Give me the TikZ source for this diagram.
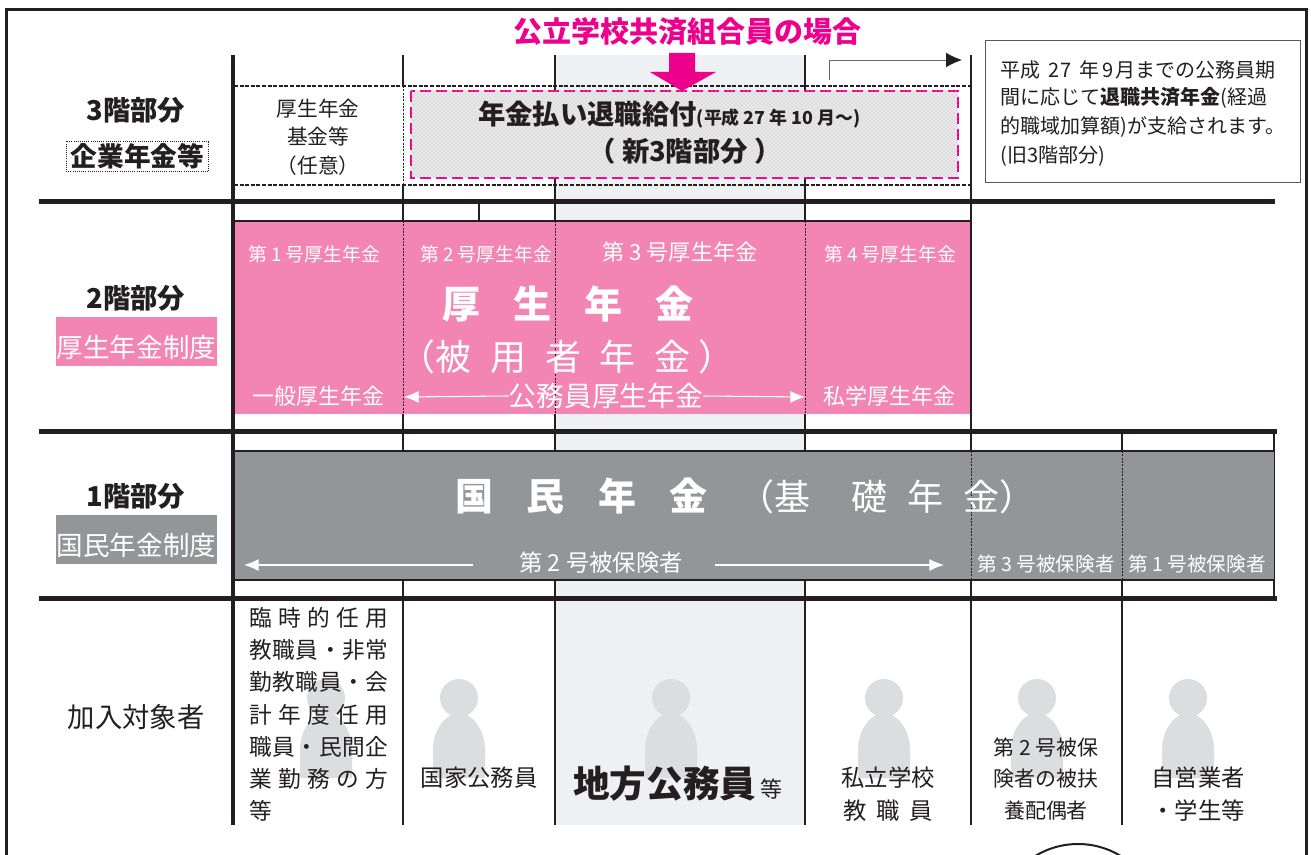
\documentclass[tikz,border=0pt]{standalone}
\usepackage{fontspec}
\setmainfont{Noto Sans CJK JP}
\usetikzlibrary{arrows.meta,patterns}

\definecolor{inkblack}{HTML}{231F20}
\definecolor{kouseipink}{HTML}{F285B3}
\definecolor{kisogray}{HTML}{939598}
\definecolor{colgray}{HTML}{EFF0F2}
\definecolor{persongray}{HTML}{DCDDDE}
\definecolor{magentapink}{HTML}{EC008C}

\newcommand{\fs}[1]{\fontsize{#1}{#1}\selectfont}
\newcommand{\spread}[1]{\makebox[104.25pt][s]{#1}}

\tikzset{
	lab/.style={text=inkblack,inner sep=0pt},
	wlab/.style={text=white,inner sep=0pt},
	gridline/.style={draw=inkblack,line width=1.5pt},
	floorline/.style={draw=inkblack,line width=3.75pt},
	dashline/.style={draw=inkblack,line width=1pt,dash pattern=on 3pt off 1.2pt},
	thindash/.style={draw=inkblack,line width=0.6pt,dash pattern=on 1.5pt off 1pt},
	wharrow/.style={draw=white,line width=0.8pt,-{Latex[length=11pt,width=9pt]}},
	person/.style={fill=persongray,draw=none},
}

\begin{document}
\begin{tikzpicture}[x=0.75pt,y=-0.75pt]

\useasboundingbox (0,0) rectangle (1311,855);
\fill[white] (0,0) rectangle (1311,855);

\begin{scope}
	\clip (0,0) rectangle (1311,855);
	\draw[draw=inkblack,line width=1.5pt,fill=white] (1078,926) circle [radius=82];
\end{scope}
\draw[draw=inkblack,line width=2.2pt] (6.5,855) -- (6.5,9.5) -- (1306.5,9.5) -- (1306.5,855);

\fill[colgray] (556,55) rectangle (804,825);

\foreach \x in {326,459,671,884,1037,1188} {
	\fill[person] (\x,698) ellipse [x radius=19,y radius=19];
	\fill[person] (\x-26,778) -- (\x-26,750) .. controls (\x-26,728) and (\x-12,713) .. (\x,713)
		.. controls (\x+12,713) and (\x+26,728) .. (\x+26,750) -- (\x+26,778) -- cycle;
}

\draw[gridline] (403,55) -- (403,86);
\draw[gridline] (403,185) -- (403,220);
\draw[gridline] (555,55) -- (555,91);
\draw[gridline] (555,178) -- (555,220);
\draw[gridline] (805,55) -- (805,91);
\draw[gridline] (805,178) -- (805,220);
\draw[gridline] (479,202) -- (479,220);
\draw[gridline] (971,55) -- (971,825);
\draw[gridline] (403,414) -- (403,825);
\draw[gridline] (555,414) -- (555,825);
\draw[gridline] (805,414) -- (805,825);
\draw[gridline] (1122,432) -- (1122,825);
\draw[gridline] (1274,432) -- (1274,598);

\fill[kouseipink] (234,221) rectangle (971,414);
\draw[gridline] (234,221) -- (971,221);
\draw[gridline] (971,221) -- (971,414);
\fill[kisogray] (234,451) rectangle (1274,580);
\draw[gridline] (234,451) -- (1274,451);
\draw[gridline] (234,580) -- (1274,580);

\draw[thindash] (403,86) -- (403,185);
\draw[thindash] (403,221) -- (403,414);
\draw[thindash] (555,221) -- (555,414);
\draw[thindash] (805,221) -- (805,414);
\draw[thindash] (971,451) -- (971,580);
\draw[thindash] (1122,451) -- (1122,580);

\draw[dashline] (234,86) -- (971,86);
\draw[dashline] (234,185) -- (971,185);

\draw[draw=magentapink,line width=2.2pt,dash pattern=on 8pt off 4pt,fill=black!9,
	postaction={pattern=crosshatch dots,pattern color=black!26}] (411,91) rectangle (958,178);

\draw[floorline] (39,202) -- (1275,202);
\draw[floorline] (39,432) -- (1277,432);
\draw[floorline] (39,598) -- (1277,598);
\draw[draw=inkblack,line width=3pt] (232.5,55) -- (232.5,825);

\fill[magentapink] (669,53) -- (695,53) -- (695,72) -- (716,72) -- (682,91) -- (650,72) -- (669,72) -- cycle;

\coordinate (oldfrom) at (829,80);
\coordinate (oldbend) at (829,60);
\coordinate (oldto) at (962,60);
\draw[draw=black!60,line width=0.6pt,-{Latex[inkblack,length=12pt,width=11pt]}] (oldfrom) -- (oldbend) -- (oldto);

\node[text=magentapink,inner sep=0pt,font=\bfseries\fs{21.75}] (title) at (687,32) {公立学校共済組合員の場合};

\fill[kouseipink] (56,317) rectangle (217,366);
\fill[kisogray] (56,515) rectangle (217,564);

\node[lab,font=\bfseries\fs{20.5}] (f3) at (136,110) {3階部分};
\node[lab,font=\bfseries\fs{20},draw=inkblack,densely dotted,line width=0.6pt,minimum width=107pt,minimum height=22.5pt] (f3sub) at (137.5,156) {企業年金等};
\node[lab,font=\bfseries\fs{20.5}] (f2) at (136,298) {2階部分};
\node[wlab,font=\fs{19.9}] (f2sub) at (136.5,347) {厚生年金制度};
\node[lab,font=\bfseries\fs{20.5}] (f1) at (136,496) {1階部分};
\node[wlab,font=\fs{19.9}] (f1sub) at (136.5,545) {国民年金制度};
\node[lab,font=\fs{20.5}] (target) at (136,717) {加入対象者};

\node[lab,font=\fs{15.5},align=center] (fund) at (318,137) {厚生年金\\[6pt]基金等\\[6pt]（任意）};
\node[lab,anchor=west,font=\bfseries\fs{20.5}] (newa) at (478,115) {年金払い退職給付{\fs{13.4}(平成 27 年 10 月〜)}};
\node[lab,font=\bfseries\fs{20.5}] (newb) at (685,151) {（ 新3階部分 ）};

\node[draw=black!65,line width=0.8pt,minimum width=236pt,minimum height=107pt] (notebox) at (1143,111.5) {};
\node[lab,anchor=west,align=left,font=\fs{15}] (note) at (1000,113.5) {平成\hspace{6.5pt}27\hspace{6.5pt}年\hspace{2pt}9\hspace{1.5pt}月までの公務員期\\[5pt]間に応じて\textbf{退職共済年金}(経過\\[5pt]的職域加算額)が支給されます。\\[5pt](旧3階部分)};

\node[wlab,font=\fs{14.1}] (k1) at (314,254) {第 1 号厚生年金};
\node[wlab,font=\fs{14.1}] (k2) at (486,254) {第 2 号厚生年金};
\node[wlab,font=\fs{16.6}] (k3) at (680,252) {第 3 号厚生年金};
\node[wlab,font=\fs{14.1}] (k4) at (890,254) {第 4 号厚生年金};
\node[wlab,font=\bfseries\fs{28.5}] (kousei) at (568,304) {厚\hspace{25pt}生\hspace{25pt}年\hspace{25pt}金};
\node[wlab,font=\fs{27}] (hiyou) at (567,357) {（被\hspace{14pt}用\hspace{14pt}者\hspace{14pt}年\hspace{14pt}金\hspace{6pt}）};
\node[wlab,font=\fs{16.5}] (ippan) at (318,396) {一般厚生年金};
\node[wlab,font=\fs{20.8}] (koumuin) at (606,396) {公務員厚生年金};
\node[wlab,font=\fs{16.5}] (shigaku) at (889,396) {私学厚生年金};

\coordinate (kl) at (404,397);
\coordinate (kr) at (805,397);
\draw[wharrow] (koumuin.west) -- (kl);
\draw[wharrow] (koumuin.east) -- (kr);

\node[wlab,font=\bfseries\fs{28.5}] (kokumin) at (581.5,496) {国\hspace{25pt}民\hspace{25pt}年\hspace{25pt}金};
\node[wlab,font=\fs{27}] (kiso) at (887,497) {（基\hspace{30.75pt}礎\hspace{15pt}年\hspace{15pt}金）};
\node[wlab,font=\fs{17.5}] (hi2) at (601,563) {第 2 号被保険者};
\node[wlab,font=\fs{14.7}] (hi3) at (1046,564) {第 3 号被保険者};
\node[wlab,font=\fs{14.7}] (hi1) at (1197,564) {第 1 号被保険者};

\coordinate (hl) at (473,565);
\coordinate (hlend) at (244,565);
\coordinate (hr) at (715,565);
\coordinate (hrend) at (944,565);
\draw[wharrow] (hl) -- (hlend);
\draw[wharrow] (hr) -- (hrend);

\node[lab,anchor=north west,align=left,font=\fs{17}] (temp) at (249,607) {\spread{臨\hfil 時\hfil 的\hfil 任\hfil 用}\\[7.2pt]\spread{教\hfil 職\hfil 員\hfil ・\hfil 非\hfil 常}\\[7.2pt]\spread{勤\hfil 教\hfil 職\hfil 員\hfil ・\hfil 会}\\[7.2pt]\spread{計\hfil 年\hfil 度\hfil 任\hfil 用}\\[7.2pt]\spread{職\hfil 員\hfil ・\hfil 民\hfil 間\hfil 企}\\[7.2pt]\spread{業\hfil 勤\hfil 務\hfil の\hfil 方}\\[7.2pt]等};
\node[lab,font=\fs{17.5}] (kokka) at (479,778) {国家公務員};
\node[lab,anchor=west,font=\bfseries\fs{27.5}] (chihou) at (573,784) {地方公務員\hspace{3pt}{\mdseries\fs{16.5}等}};
\node[lab,font=\fs{17.5}] (shiritsu) at (888,778) {私立学校};
\node[lab,font=\fs{17.5}] (kyoshoku) at (888,811) {教\hspace{7.5pt}職\hspace{7.5pt}員};
\node[lab,font=\fs{15.7},align=center] (fuyou) at (1046,779) {第 2 号被保\\[7.6pt]険者の被扶\\[7.6pt]養配偶者};
\node[lab,font=\fs{17.5}] (jiei) at (1198,778) {自営業者};
\node[lab,font=\fs{17.5}] (gakusei) at (1198,811) {・学生等};

\end{tikzpicture}
\end{document}
